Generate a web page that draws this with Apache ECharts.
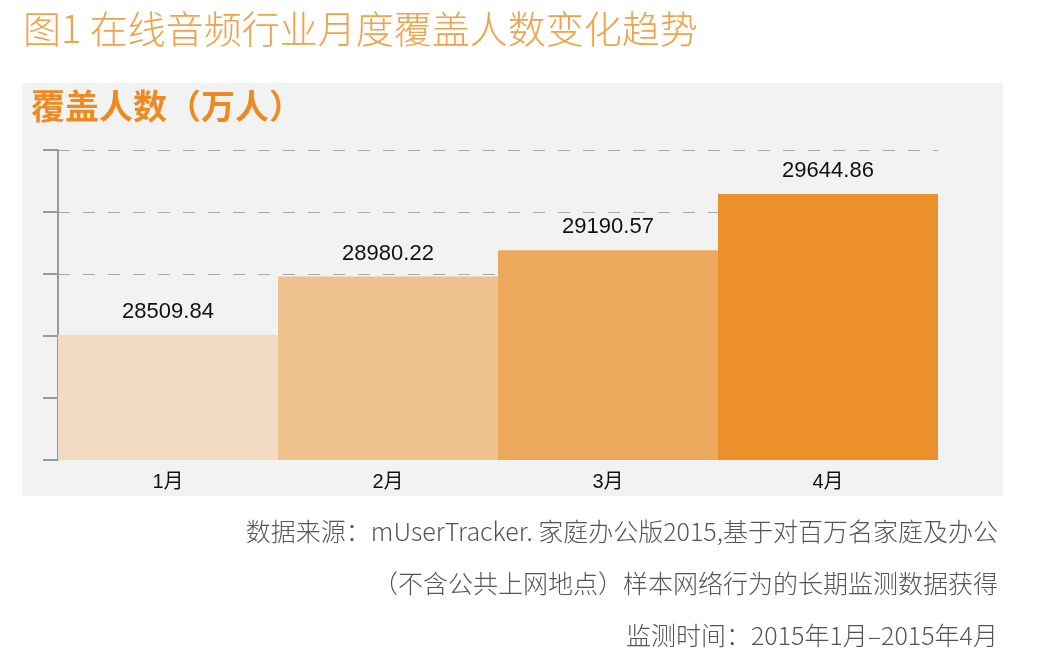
<!DOCTYPE html>
<html>
<head>
<meta charset="utf-8">
<script src="https://cdn.jsdelivr.net/npm/echarts@6/dist/echarts.min.js"></script>
<style>
html,body{margin:0;padding:0;background:#ffffff;}
#main{width:1044px;height:668px;}
</style>
</head>
<body>
<div id="main"></div>
<script>
var categories = ['1月', '2月', '3月', '4月'];
var coverage = [28509.84, 28980.22, 29190.57, 29644.86];
var barColors = ['#F3DBC3', '#EFC18D', '#ECA85C', '#EC902C'];
var axisMin = 27500, axisMax = 30000, axisStep = 500;

var chartTitle = '图1 在线音频行业月度覆盖人数变化趋势';
var unitLabel = '覆盖人数（万人）';
var notes = [
  '数据来源：mUserTracker. 家庭办公版2015,基于对百万名家庭及办公',
  '（不含公共上网地点）样本网络行为的长期监测数据获得',
  '监测时间：2015年1月–2015年4月'
];

var cjk = '"Noto Sans CJK SC", "Noto Sans", sans-serif';
var mixed = '"Liberation Sans", "Noto Sans CJK SC", sans-serif';
var chart = echarts.init(document.getElementById('main'), null, {renderer: 'canvas'});

var noteGraphics = notes.map(function (t, i) {
  return {
    type: 'text', right: 46, top: 519 + i * 52, z: 10,
    style: { text: t, fill: '#555555', font: '300 25px ' + cjk, textAlign: 'right' }
  };
});

chart.setOption({
  backgroundColor: '#ffffff',
  animation: false,
  graphic: [
    { type: 'rect', shape: { x: 22, y: 83, width: 981, height: 413 }, style: { fill: '#F1F3F3' }, z: -10, silent: true },
    { type: 'text', left: 23, top: 10, z: 10,
      style: { text: chartTitle, fill: '#F0A24A', font: '300 38px ' + cjk } },
    { type: 'text', left: 31, top: 89, z: 10,
      style: { text: unitLabel, fill: '#EE8A22', font: 'bold 34px ' + cjk } }
  ].concat(noteGraphics),
  grid: { left: 58, right: 106, top: 150, bottom: 208, containLabel: false },
  xAxis: {
    type: 'category',
    data: categories,
    axisLine: { show: false },
    axisTick: { show: false },
    axisLabel: { color: '#111111', fontSize: 20, margin: 12, fontFamily: mixed }
  },
  yAxis: {
    type: 'value',
    min: axisMin, max: axisMax, interval: axisStep,
    axisLine: { show: true, lineStyle: { color: '#9a9a9a', width: 2 } },
    axisTick: { show: true, length: 15, lineStyle: { color: '#9a9a9a', width: 2 } },
    axisLabel: { show: false },
    splitLine: { show: true, showMinLine: false, lineStyle: { color: '#a8a8a8', width: 1, type: [12, 13] } }
  },
  series: [{
    type: 'bar',
    barCategoryGap: '0%',
    data: coverage.map(function (v, i) {
      return { value: v, itemStyle: { color: barColors[i] } };
    }),
    label: {
      show: true, position: 'top', distance: 12,
      color: '#111111', fontSize: 22, fontFamily: '"Liberation Sans", Arial, sans-serif',
      formatter: function (p) { return p.value.toFixed(2); }
    }
  }]
});
</script>
</body>
</html>
